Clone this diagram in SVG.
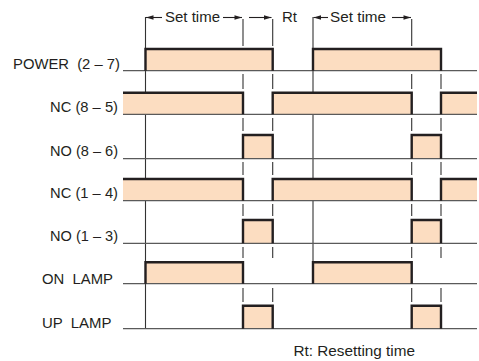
<svg xmlns="http://www.w3.org/2000/svg" width="479" height="361" viewBox="0 0 479 361">
<defs>
<style>
.lbl{font-family:"Liberation Sans",Arial,sans-serif;font-size:15px;fill:#231f20;white-space:pre}
.base{stroke:#5a5a5a;stroke-width:1.3;fill:none}
.fill{fill:#fcddc1;stroke:none}
.edge{stroke:#231f20;stroke-width:2.4;fill:none;stroke-linejoin:miter;stroke-linecap:butt}
.tl{stroke:#333;stroke-width:1.1;fill:none}
.arr{stroke:#231f20;stroke-width:1.1;fill:none}
</style>
<marker id="ah" viewBox="0 0 10 6" refX="10" refY="3" markerWidth="9" markerHeight="4.5" orient="auto" markerUnits="userSpaceOnUse">
<path d="M0,0 L10,3 L0,6 Z" fill="#231f20"/>
</marker>
</defs>
<rect width="479" height="361" fill="#fff"/>

<g id="connectors">
<path class="tl" d="M145.5,17 V328.7"/>
<path class="tl" d="M313,17 V283.7"/>
<path class="tl" d="M243,19 V46 M243,74 V89 M243,118 V131 M243,162 V175 M243,204 V216 M243,247 V258 M243,288 V302"/>
<path class="tl" d="M272.7,19 V46 M272.7,74 V89 M272.7,118 V131 M272.7,162 V175 M272.7,204 V216 M272.7,247 V258 M272.7,288 V302"/>
<path class="tl" d="M411.7,19 V46 M411.7,74 V89 M411.7,118 V131 M411.7,162 V175 M411.7,204 V216 M411.7,247 V258 M411.7,288 V302"/>
<path class="tl" d="M441,74 V89 M441,118 V131 M441,162 V175 M441,204 V216 M441,247 V258 M441,288 V302"/>
<path class="arr" d="M162,17.5 H146" marker-end="url(#ah)"/>
<path class="arr" d="M223,17.5 H242" marker-end="url(#ah)"/>
<path class="arr" d="M249,17.5 H271.5" marker-end="url(#ah)"/>
<path class="arr" d="M328,17.5 H313.5" marker-end="url(#ah)"/>
<path class="arr" d="M392,17.5 H411" marker-end="url(#ah)"/>
<text class="lbl" x="165" y="21.5" textLength="55" lengthAdjust="spacingAndGlyphs">Set time</text>
<text class="lbl" x="282" y="21.5">Rt</text>
<text class="lbl" x="330" y="21.5" textLength="56" lengthAdjust="spacingAndGlyphs">Set time</text>
</g>

<g id="power">
<text class="lbl" x="13" y="68.5" textLength="107" lengthAdjust="spacingAndGlyphs" xml:space="preserve">POWER  (2 – 7)</text>
<rect class="fill" x="145.5" y="49" width="127.2" height="21.7"/>
<rect class="fill" x="313" y="49" width="128" height="21.7"/>
<line class="base" x1="123" y1="70.7" x2="477" y2="70.7"/>
<path class="edge" d="M145.5,70.7 V49 H272.7 V70.7 M313,70.7 V49 H441 V70.7"/>
</g>

<g id="nc85">
<text class="lbl" x="50" y="111.5" textLength="68" lengthAdjust="spacingAndGlyphs">NC (8 – 5)</text>
<rect class="fill" x="123" y="92.7" width="120" height="21.6"/>
<rect class="fill" x="272.7" y="92.7" width="139" height="21.6"/>
<rect class="fill" x="441" y="92.7" width="36" height="21.6"/>
<line class="base" x1="123" y1="114.3" x2="477" y2="114.3"/>
<path class="edge" d="M123,92.7 H243 V114.3 M272.7,114.3 V92.7 H411.7 V114.3 M441,114.3 V92.7 H477"/>
</g>

<g id="no86">
<text class="lbl" x="50" y="155.5" textLength="68" lengthAdjust="spacingAndGlyphs">NO (8 – 6)</text>
<rect class="fill" x="243" y="135" width="29.7" height="23.7"/>
<rect class="fill" x="411.7" y="135" width="29.3" height="23.7"/>
<line class="base" x1="123" y1="158.7" x2="477" y2="158.7"/>
<path class="edge" d="M243,158.7 V135 H272.7 V158.7 M411.7,158.7 V135 H441 V158.7"/>
</g>

<g id="nc14">
<text class="lbl" x="50" y="198" textLength="68" lengthAdjust="spacingAndGlyphs">NC (1 – 4)</text>
<rect class="fill" x="123" y="179" width="120" height="21.7"/>
<rect class="fill" x="272.7" y="179" width="139" height="21.7"/>
<rect class="fill" x="441" y="179" width="36" height="21.7"/>
<line class="base" x1="123" y1="200.7" x2="477" y2="200.7"/>
<path class="edge" d="M123,179 H243 V200.7 M272.7,200.7 V179 H411.7 V200.7 M441,200.7 V179 H477"/>
</g>

<g id="no13">
<text class="lbl" x="50" y="240.5" textLength="68" lengthAdjust="spacingAndGlyphs">NO (1 – 3)</text>
<rect class="fill" x="243" y="220" width="29.7" height="23.3"/>
<rect class="fill" x="411.7" y="220" width="29.3" height="23.3"/>
<line class="base" x1="123" y1="243.3" x2="477" y2="243.3"/>
<path class="edge" d="M243,243.3 V220 H272.7 V243.3 M411.7,243.3 V220 H441 V243.3"/>
</g>

<g id="onlamp">
<text class="lbl" x="42" y="283.5" textLength="71" lengthAdjust="spacingAndGlyphs" xml:space="preserve">ON  LAMP</text>
<rect class="fill" x="145.5" y="262.3" width="97.5" height="21.4"/>
<rect class="fill" x="313" y="262.3" width="98.7" height="21.4"/>
<line class="base" x1="123" y1="283.7" x2="477" y2="283.7"/>
<path class="edge" d="M145.5,283.7 V262.3 H243 V283.7 M313,283.7 V262.3 H411.7 V283.7"/>
</g>

<g id="uplamp">
<text class="lbl" x="42" y="328" textLength="69.5" lengthAdjust="spacingAndGlyphs" xml:space="preserve">UP  LAMP</text>
<rect class="fill" x="243" y="305.7" width="29.7" height="23"/>
<rect class="fill" x="411.7" y="305.7" width="29.3" height="23"/>
<line class="base" x1="123" y1="328.7" x2="477" y2="328.7"/>
<path class="edge" d="M243,328.7 V305.7 H272.7 V328.7 M411.7,328.7 V305.7 H441 V328.7"/>
</g>

<g id="legend">
<text class="lbl" x="293.5" y="356" textLength="121.5" lengthAdjust="spacingAndGlyphs">Rt: Resetting time</text>
</g>
</svg>
